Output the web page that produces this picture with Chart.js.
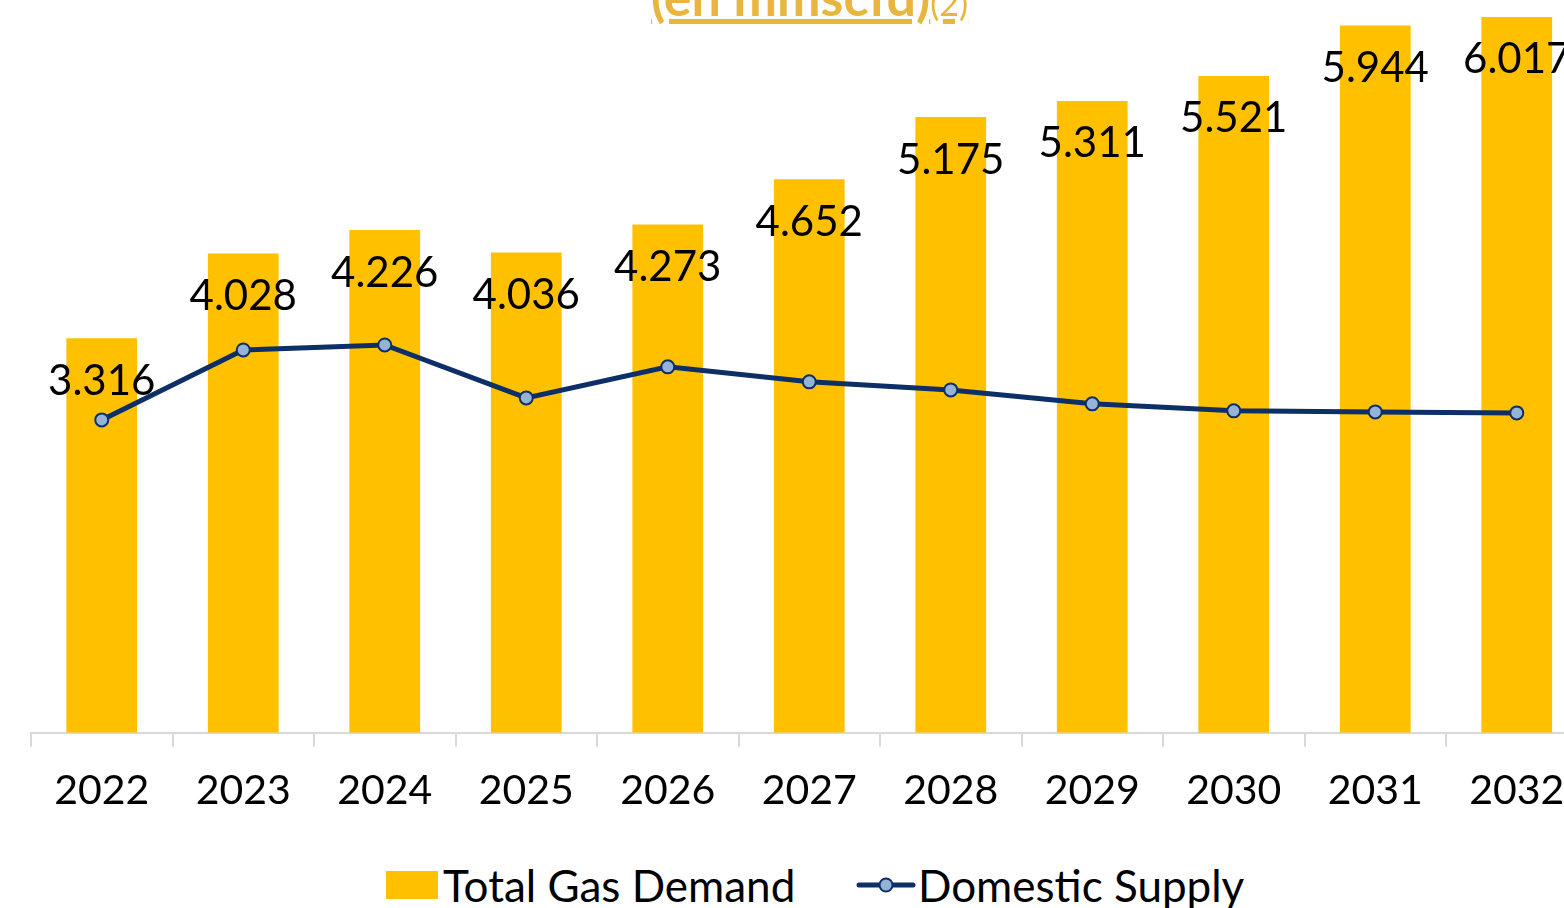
<!DOCTYPE html>
<html>
<head>
<meta charset="utf-8">
<script src="https://cdn.jsdelivr.net/npm/chart.js@4.4.1/dist/chart.umd.min.js"></script>
<style>
  html, body { margin: 0; padding: 0; background: #fff; overflow: hidden; width: 1564px; height: 908px; }
  #wrap { position: absolute; left: 0; top: 0; width: 1600px; height: 834px; }
  #title { position: absolute; left: 651px; top: -30px; font-family: Lato, sans-serif; color: #E8B63E;
           font-size: 52px; line-height: 52px; font-weight: bold; text-decoration: underline; white-space: nowrap; }
  #title span { font-weight: normal; font-size: 34px; }
  .item { position: absolute; top: 861px; display: flex; align-items: center; height: 48px;
          font-family: Lato, sans-serif; font-size: 44px; color: #000; white-space: nowrap; }
  .box { width: 52px; height: 28px; background: #FFC000; margin-right: 5px; }
</style>
</head>
<body>
<div id="wrap"><canvas id="chart"></canvas></div>
<div id="title">(en mmscfd)<span>(2)</span></div>
<div class="item" style="left:386px"><div class="box"></div>Total Gas Demand</div>
<div class="item" style="left:856px"><svg width="60" height="20" style="margin-right:2px"><line x1="3" y1="10" x2="57" y2="10" stroke="#0B2F66" stroke-width="5" stroke-linecap="round"/><circle cx="30" cy="10" r="6.5" fill="#95B3D7" stroke="#0B2F66" stroke-width="2"/></svg>Domestic Supply</div>
<script>
const years = ["2022", "2023", "2024", "2025", "2026", "2027", "2028", "2029", "2030", "2031", "2032"];
const totalDemand = [3316, 4028, 4226, 4036, 4273, 4652, 5175, 5311, 5521, 5944, 6017];
const domesticSupply = [2630, 3218, 3260, 2815, 3076, 2950, 2882, 2765, 2706, 2697, 2689];

// value labels sit a fixed distance under the top of each bar
const barLabels = {
    id: 'barLabels',
    afterDatasetsDraw(chart) {
        const ctx = chart.ctx;
        const meta = chart.getDatasetMeta(1);
        ctx.save();
        ctx.font = '42px Lato, sans-serif';
        ctx.fillStyle = '#000';
        ctx.textAlign = 'center';
        ctx.textBaseline = 'middle';
        meta.data.forEach((bar, i) => {
            ctx.fillText((totalDemand[i] / 1000).toFixed(3), bar.x, bar.y + 43);
        });
        ctx.restore();
    }
};

new Chart(document.getElementById('chart'), {
    type: 'bar',
    data: {
        labels: years,
        datasets: [{
            type: 'line',
            label: 'Domestic Supply',
            data: domesticSupply,
            borderColor: '#0B2F66',
            borderWidth: 5,
            pointRadius: 6.5,
            pointBorderWidth: 2,
            pointBackgroundColor: '#95B3D7',
            pointBorderColor: '#0B2F66',
            tension: 0,
            order: 0
        }, {
            label: 'Total Gas Demand',
            data: totalDemand,
            backgroundColor: '#FFC000',
            categoryPercentage: 1,
            barPercentage: 0.5,
            order: 1
        }]
    },
    options: {
        responsive: true,
        maintainAspectRatio: false,
        animation: false,
        layout: { padding: { left: 31, right: 12.5, top: 13, bottom: 0 } },
        plugins: { legend: { display: false }, tooltip: { enabled: false } },
        scales: {
            x: {
                grid: { drawOnChartArea: false, color: '#D9D9D9', tickLength: 14, lineWidth: 2 },
                border: { color: '#D9D9D9', width: 2 },
                ticks: { color: '#000', font: { family: 'Lato', size: 41 }, padding: 19, maxRotation: 0 }
            },
            y: { display: false, min: 0, max: 6050 }
        }
    },
    plugins: [barLabels]
});
</script>
</body>
</html>
